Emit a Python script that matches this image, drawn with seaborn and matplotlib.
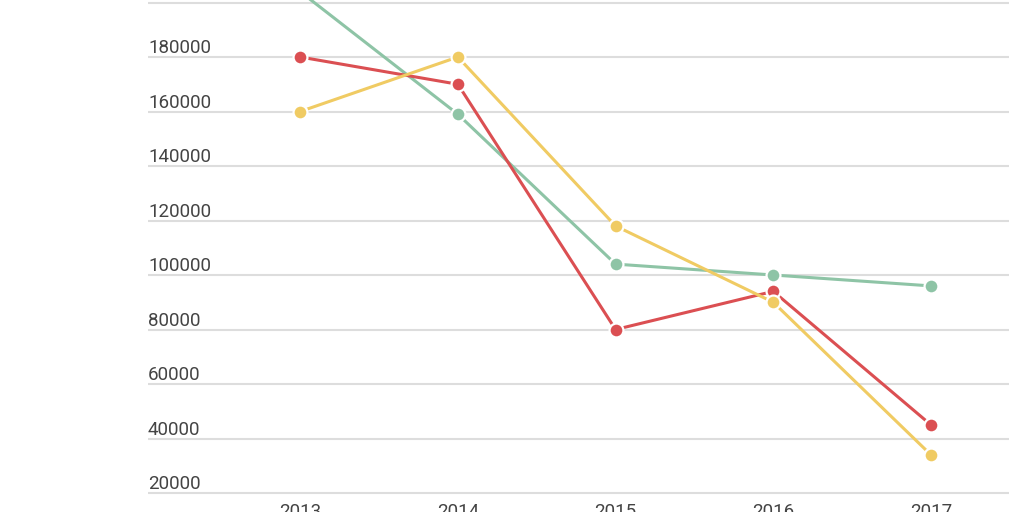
import pandas as pd
import numpy as np
import matplotlib.pyplot as plt
import matplotlib.transforms as mtransforms
import seaborn as sns

years = [2013, 2014, 2015, 2016, 2017]
green_vals = [204000, 159000, 104000, 100000, 96000]
red_vals = [180000, 170000, 80000, 94000, 45000]
yellow_vals = [160000, 180000, 118000, 90000, 34000]
y_ticks = [20000, 40000, 60000, 80000, 100000, 120000, 140000, 160000, 180000, 200000]
# the 200000 label sits above the visible area in the reference
y_labels = [20000, 40000, 60000, 80000, 100000, 120000, 140000, 160000, 180000]

series_names = ['green', 'red', 'yellow']
colors = {'green': '#8ec4a6', 'red': '#db4f52', 'yellow': '#f0cb63'}

df = pd.DataFrame({
    'year': years * 3,
    'value': green_vals + red_vals + yellow_vals,
    'series': [s for s in series_names for _ in years],
})

sns.set_style('white')
plt.rcParams['font.family'] = ['Roboto', 'DejaVu Sans']

fig = plt.figure(figsize=(10.24, 5.12), dpi=100)
ax = fig.add_axes([148 / 1024, 0.02646, 861 / 1024, 1.0325])

sns.lineplot(data=df, x='year', y='value', hue='series', hue_order=series_names,
             palette=colors, marker='o', markersize=10, markeredgecolor='white',
             markeredgewidth=1.6, linewidth=2.2, legend=False, ax=ax)

ax.set_xlim(2012.035, 2017.495)
ax.set_ylim(18000, 212000)
ax.set_yticks(y_ticks)
ax.set_yticklabels([])
ax.set_xticks(years)
ax.set_xticklabels([str(y) for y in years], fontsize=13.5, color='#444444')
ax.tick_params(axis='both', length=0)
ax.tick_params(axis='x', pad=3)
ax.set_xlabel('')
ax.set_ylabel('')
ax.yaxis.grid(True, color='#dddddd', linewidth=1.5)
ax.xaxis.grid(False)
ax.set_axisbelow(True)
for sp in ax.spines.values():
    sp.set_visible(False)

trans = mtransforms.offset_copy(ax.get_yaxis_transform(), fig=fig, x=0, y=0, units='dots')
for t in y_labels:
    ax.text(0, t, str(t), transform=trans, ha='left', va='bottom',
            fontsize=13.5, color='#444444')

fig.savefig('out.png', dpi=100)
